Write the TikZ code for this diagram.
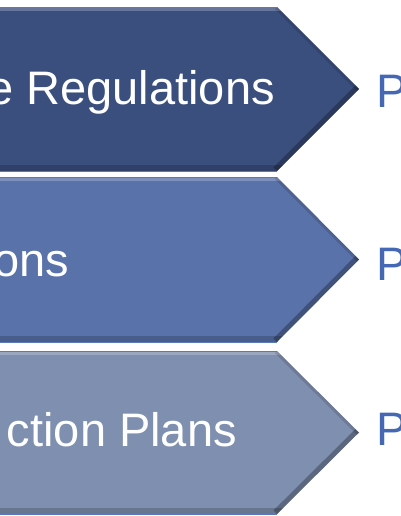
\documentclass[tikz,border=0pt]{standalone}
\usepackage{fontspec}
\setmainfont{Liberation Sans}
\definecolor{cA}{HTML}{3B4F7F}
\definecolor{cB}{HTML}{5A72AA}
\definecolor{cC}{HTML}{7F8FAF}
\definecolor{pcol}{HTML}{4468B4}
\definecolor{edge}{HTML}{5878C0}
\tikzset{
  lbl/.style={inner sep=0pt, text=white, font=\fontsize{47}{47}\selectfont, anchor=base east},
  plbl/.style={inner sep=0pt, text=pcol, font=\fontsize{47}{47}\selectfont, anchor=base west},
  rim/.style={draw=edge, line width=0.8pt}
}
\newcommand{\chev}[4]{% top, bottom, color, name
  \begin{scope}
    \clip (-20,#1) -- (277,#1) -- (359,{(#1+#2)/2}) -- (277,#2) -- (-20,#2) -- cycle;
    \fill[#3] (-20,#1) rectangle (400,#2);
    \fill[white,opacity=0.22] (-20,#1) rectangle (400,#1+4);
    \fill[black,opacity=0.18] (-20,#2-6) rectangle (400,#2);
    \draw[black,opacity=0.28,line width=10pt] (277,#2) -- (359,{(#1+#2)/2});
    \draw[black,opacity=0.14,line width=6pt] (277,#1) -- (359,{(#1+#2)/2});
  \end{scope}
  \draw[rim] (-20,#1) -- (277,#1);
  \draw[rim] (-20,#2) -- (277,#2);
}
\begin{document}
\begin{tikzpicture}[x=1pt,y=-1pt]
\useasboundingbox (0,0) rectangle (400,516);
\begin{scope}
\clip (0,0) rectangle (400,516);
\chev{7}{171}{cA}{s1}
\chev{177}{342}{cB}{s2}
\chev{351}{514}{cC}{s3}
\node[lbl] (t1) at (275,105) {e Regulations};
\node[lbl] (t2) at (69,276) {ons};
\node[lbl] (t3) at (237,446) {ction Plans};
\node[plbl] (p1) at (376,107) {P};
\node[plbl] (p2) at (376,280) {P};
\node[plbl] (p3) at (376,445) {P};
\end{scope}
\end{tikzpicture}
\end{document}
